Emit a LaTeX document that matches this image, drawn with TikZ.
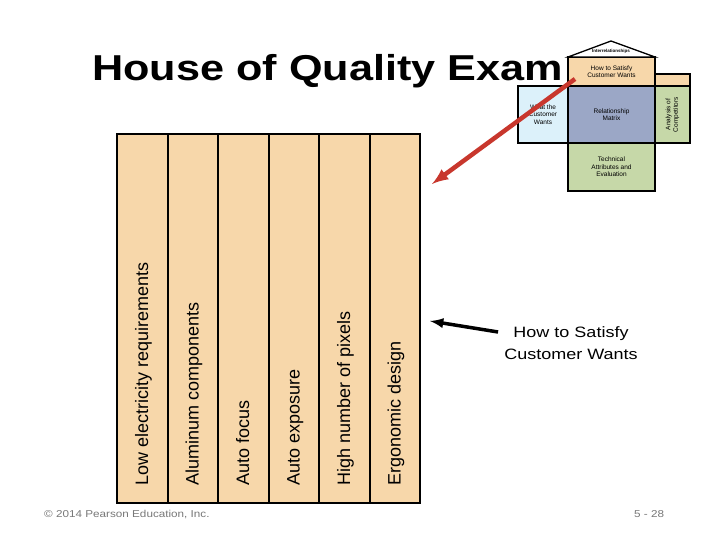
\documentclass[tikz,border=0pt]{standalone}
\usepackage{fontspec}
\setmainfont{Liberation Sans}
\usetikzlibrary{positioning}
\definecolor{peach}{RGB}{247,215,170}
\definecolor{skyblue}{RGB}{220,241,250}
\definecolor{matrixblue}{RGB}{155,167,198}
\definecolor{sage}{RGB}{198,216,168}
\definecolor{arrowred}{RGB}{200,55,45}
\definecolor{footgray}{RGB}{120,120,120}

\begin{document}
\begin{tikzpicture}[x=1pt,y=-1pt,>=latex,
  colbox/.style={draw,line width=2pt,fill=peach,minimum width=50.5pt,minimum height=369pt,inner sep=0pt,outer sep=0pt,anchor=north west},
  collbl/.style={rotate=90,anchor=base west,inner sep=0pt,font=\fontsize{18}{21}\selectfont},
  hbox/.style={draw,line width=1.3pt,inner sep=0pt,outer sep=0pt,anchor=north west,align=center,font=\fontsize{6.5}{7.5}\selectfont},
  foot/.style={anchor=base west,inner sep=0pt,text=footgray,xscale=1.17,font=\fontsize{10}{12}\selectfont}]
 \useasboundingbox[fill=white] (0,0) rectangle (720,540);

 % title
 \node[anchor=base west,inner sep=0pt,xscale=1.2,font=\bfseries\fontsize{36}{40}\selectfont] (title) at (92,81) {House of Quality Exam};

 % technical attributes, one column each
 \foreach \lbl [count=\i] in {Low electricity requirements,Aluminum components,Auto focus,Auto exposure,High number of pixels,Ergonomic design}
 {
   \node[colbox] (col\i) at ({117+50.5*(\i-1)},134) {};
   \node[collbl] (lbl\i) at ({148+50.5*(\i-1)},486) {\lbl};
 }

 % small house
 \node[hbox,fill=peach,minimum width=87pt,minimum height=29pt] (howbox) at (568,57) {How to Satisfy\\Customer Wants};
 \draw[line width=1.3pt,fill=white] (howbox.north west) -- (611,41) -- (howbox.north east) -- cycle;
 \node[inner sep=0pt,font=\bfseries\fontsize{4.5}{5}\selectfont] (roof) at (611,51.5) {Interrelationships};
 \node[hbox,fill=peach,minimum width=35pt,minimum height=12pt,anchor=south west] (ext) at (howbox.south east) {};
 \node[hbox,fill=matrixblue,minimum width=87pt,minimum height=57pt] (relbox) at (howbox.south west) {Relationship\\Matrix};
 \node[hbox,fill=skyblue,minimum width=50pt,minimum height=57pt,anchor=north east] (whatbox) at (relbox.north west) {What the\\Customer\\Wants};
 \node[hbox,fill=sage,minimum width=35pt,minimum height=57pt] (compbox) at (relbox.north east) {};
 \node[rotate=90,align=center,inner sep=0pt,font=\fontsize{6.5}{7.5}\selectfont] (complbl) at (compbox.center) {Analysis of\\Competitors};
 \node[hbox,fill=sage,minimum width=87pt,minimum height=48pt] (techbox) at (relbox.south west) {Technical\\Attributes and\\Evaluation};

 % red pointer
 \coordinate (redtail) at (575,79);
 \coordinate (redtip) at (432,184);
 \draw[->,line width=4.5pt,arrowred] (redtail) -- (redtip);

 % label and black pointer
 \node[align=center,inner sep=0pt,xscale=1.2,font=\fontsize{15}{22}\selectfont] (howlbl) at (571,343) {How to Satisfy\\Customer Wants};
 \coordinate (blacktip) at (430,321);
 \draw[->,line width=3.5pt] ([xshift=-6pt,yshift=11pt]howlbl.west) -- (blacktip);

 % footer
 \node[foot] (copy) at (44,517) {© 2014 Pearson Education, Inc.};
 \node[foot] (pageno) at (634,517) {5 - 28};
\end{tikzpicture}
\end{document}
